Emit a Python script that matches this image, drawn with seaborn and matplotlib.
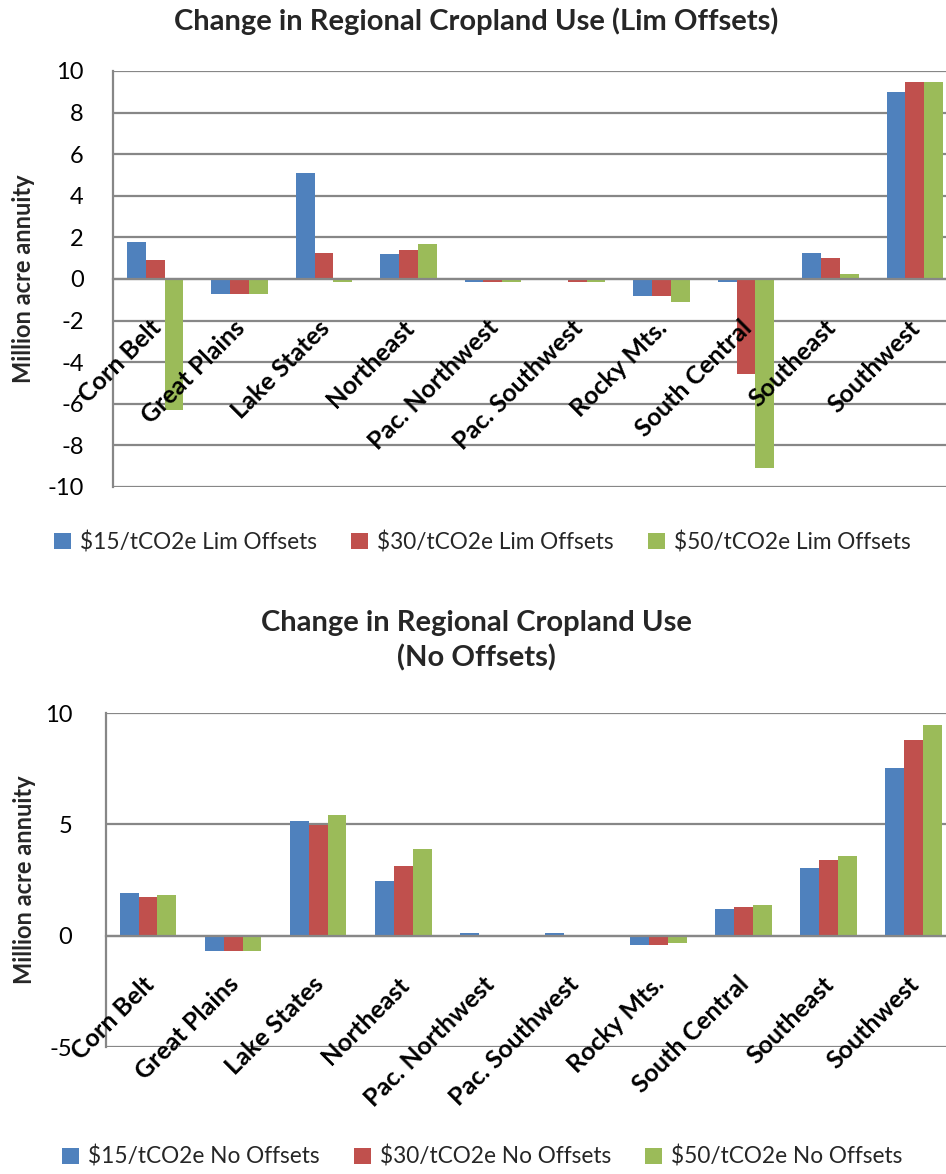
import numpy as np
import pandas as pd
import matplotlib
matplotlib.use("Agg")
import matplotlib.pyplot as plt
from matplotlib.patches import Patch
from matplotlib.transforms import ScaledTranslation
import seaborn as sns

# Regions (x categories)
regions = ["Corn Belt", "Great Plains", "Lake States", "Northeast", "Pac. Northwest",
           "Pac. Southwest", "Rocky Mts.", "South Central", "Southeast", "Southwest"]

# Limited-offsets scenarios (million acre annuity)
lim_labels = ["$15/tCO2e Lim Offsets", "$30/tCO2e Lim Offsets", "$50/tCO2e Lim Offsets"]
lim_15 = [1.77, -0.74, 5.12, 1.19, -0.15, 0.00, -0.82, -0.13, 1.27, 8.97]
lim_30 = [0.90, -0.74, 1.27, 1.38, -0.13, -0.13, -0.82, -4.59, 1.00, 9.47]
lim_50 = [-6.32, -0.74, -0.16, 1.67, -0.13, -0.13, -1.11, -9.08, 0.22, 9.47]

# No-offsets scenarios (million acre annuity)
no_labels = ["$15/tCO2e No Offsets", "$30/tCO2e No Offsets", "$50/tCO2e No Offsets"]
no_15 = [1.93, -0.67, 5.13, 2.44, 0.10, 0.10, -0.42, 1.20, 3.06, 7.55]
no_30 = [1.72, -0.67, 4.98, 3.15, 0.00, 0.00, -0.42, 1.27, 3.42, 8.80]
no_50 = [1.81, -0.67, 5.40, 3.87, 0.00, 0.00, -0.33, 1.36, 3.60, 9.45]

colors = ["#4F81BD", "#C0504D", "#9BBB59"]
grid_grey = "#878787"

sns.set_theme(style="white")
plt.rcParams["font.family"] = ["Lato", "DejaVu Sans"]
plt.rcParams["axes.unicode_minus"] = False
plt.rcParams["text.parse_math"] = False


def long_frame(labels, series):
    rows = []
    for lab, vals in zip(labels, series):
        for reg, v in zip(regions, vals):
            rows.append({"region": reg, "scenario": lab, "value": v})
    return pd.DataFrame(rows)


def draw_panel(fig, ax, df, labels, ylim, ystep, ytick_len):
    sns.barplot(data=df, x="region", y="value", hue="scenario", order=regions,
                hue_order=labels, palette=colors, width=0.667, linewidth=0,
                saturation=1, errorbar=None, legend=False, ax=ax)
    ax.set_xlim(-0.5, len(regions) - 0.5)
    ax.set_ylim(*ylim)
    ax.set_yticks(np.arange(ylim[0], ylim[1] + 0.1, ystep))
    ax.set_xlabel("")
    ax.set_axisbelow(True)
    ax.yaxis.grid(True, color=grid_grey, linewidth=1.6)
    ax.xaxis.grid(False)
    for s in ("top", "right"):
        ax.spines[s].set_visible(False)
    ax.spines["left"].set_color(grid_grey)
    ax.spines["left"].set_linewidth(1.6)
    ax.spines["bottom"].set_position(("data", 0))
    ax.spines["bottom"].set_color(grid_grey)
    ax.spines["bottom"].set_linewidth(1.6)

    # category labels hang diagonally just below the zero line
    ax.set_xticks(range(len(regions)))
    ax.set_xticklabels([])
    shift = ScaledTranslation(2 / 100, -45 / 100, fig.dpi_scale_trans)
    for i, name in enumerate(regions):
        ax.text(i, 0, name, transform=ax.transData + shift, rotation=45,
                ha="right", va="center", rotation_mode="anchor",
                fontsize=18, fontweight="bold", color="black", clip_on=False)

    ax.set_xticks(np.arange(0.5, len(regions) - 1, 1), minor=True)
    ax.tick_params(axis="x", which="major", length=0)
    ax.tick_params(axis="x", which="minor", length=8, width=1.6, color=grid_grey,
                   direction="out")
    ax.tick_params(axis="y", which="major", length=ytick_len, width=1.6,
                   color=grid_grey, direction="out", pad=14, labelsize=17,
                   labelcolor="black")
    ax.set_ylabel("Million acre annuity", fontsize=17, fontweight="bold")


def add_legend(fig, labels, y):
    handles = [Patch(facecolor=c, edgecolor="none") for c in colors]
    fig.legend(handles, labels, loc="center", bbox_to_anchor=(0.51, y),
               ncol=3, frameon=False, fontsize=16.3, handlelength=0.75,
               handleheight=0.75, handletextpad=0.4, columnspacing=1.5)


fig = plt.figure(figsize=(9.46, 11.74), dpi=100)

ax1 = fig.add_axes([113 / 946, 1 - 487 / 1174, 844 / 946, 416 / 1174])
draw_panel(fig, ax1, long_frame(lim_labels, [lim_15, lim_30, lim_50]), lim_labels,
           (-10, 10), 2, 7)
ax1.yaxis.set_label_coords(-0.092, 0.5)
fig.text(476 / 946, 1 - 21 / 1174, "Change in Regional Cropland Use (Lim Offsets)",
         ha="center", va="center", fontsize=21, fontweight="bold")
add_legend(fig, lim_labels, 1 - 542 / 1174)

ax2 = fig.add_axes([105.5 / 946, 1 - 1047 / 1174, 850.5 / 946, 334 / 1174])
draw_panel(fig, ax2, long_frame(no_labels, [no_15, no_30, no_50]), no_labels,
           (-5, 10), 5, 10)
ax2.yaxis.set_label_coords(-0.082, 0.5)
fig.text(476 / 946, 1 - 641 / 1174, "Change in Regional Cropland Use\n(No Offsets)",
         ha="center", va="center", fontsize=21, fontweight="bold",
         linespacing=1.38)
add_legend(fig, no_labels, 1 - 1157 / 1174)

fig.savefig("out.png", dpi=100)
